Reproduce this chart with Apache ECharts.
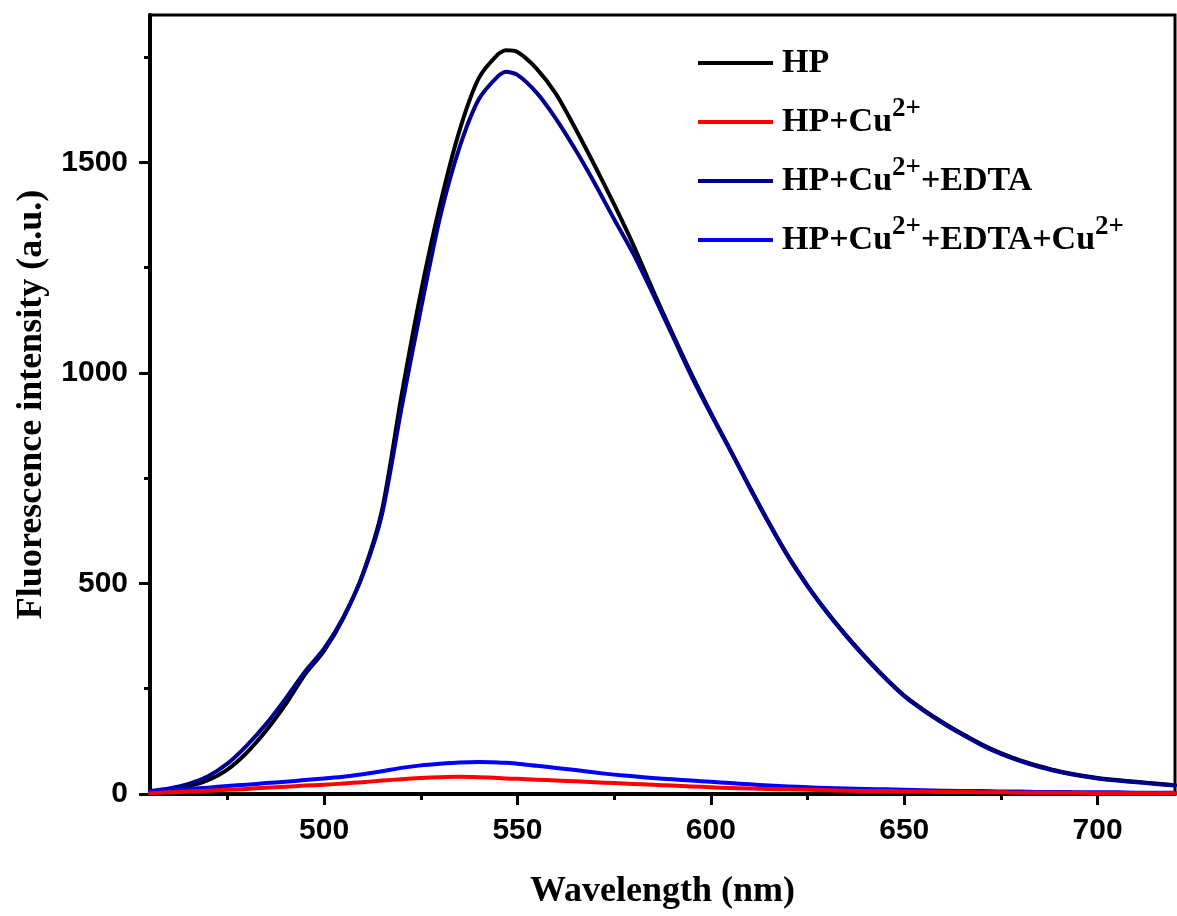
<!DOCTYPE html>
<html>
<head>
<meta charset="utf-8">
<script src="https://cdn.jsdelivr.net/npm/echarts@6/dist/echarts.min.js"></script>
<style>html,body{margin:0;padding:0;background:#fff;}#c{width:1177px;height:916px;}</style>
</head>
<body>
<div id="c"></div>
<script>
const wavelengths = [455,460,465,470,475,480,485,490,495,500,505,510,515,520,525,530,535,540,545,547,550,555,560,565,570,575,580,585,590,595,600,605,610,615,620,625,630,635,640,645,650,655,660,665,670,675,680,685,690,695,700,705,710,715,720];
const hp = [6,10,18,33,58,98,150,212,283,340,418,522,675,945,1190,1400,1575,1700,1757,1766,1762,1722,1662,1580,1492,1400,1303,1197,1095,997,905,818,730,645,565,495,433,377,325,277,234,200,170,143,118,97,80,66,54,45,38,33,29,25,21];
const hpCu = [2,4,6,8,10,12,15,17,20,22,25,28,32,35,38,40,41,40,38,37,36,34,32,30,28,26,24,22,20,18,16,14,13,12,11,10,9,8,7,7,6,6,5,5,4,4,3,3,3,3,2,2,2,2,2];
const hpCuEdta = [7,13,24,42,72,115,166,226,290,345,420,520,665,915,1150,1370,1535,1650,1705,1715,1708,1665,1603,1530,1450,1365,1282,1188,1090,992,902,816,728,643,563,493,431,375,323,275,232,198,168,141,116,95,78,64,53,44,37,32,28,24,20];
const hpCuEdtaCu = [6,9,12,15,19,22,26,29,33,37,41,47,54,62,68,72,75,76,75,74,72,67,62,57,51,46,42,38,35,32,29,26,23,20,18,16,14,13,12,11,10,9,8,7,7,6,6,5,5,4,4,4,3,3,3];
const seriesNames = ['HP', 'HP+Cu2+', 'HP+Cu2++EDTA', 'HP+Cu2++EDTA+Cu2+'];
const xMajorTicks = [500,550,600,650,700];
const xMinorTicks = [475,525,575,625,675];
const yMajorTicks = [0,500,1000,1500];
const yMinorTicks = [250,750,1250,1750];

const pair = arr => wavelengths.map((w, i) => [w, arr[i]]);
const chart = echarts.init(document.getElementById('c'));
const sans = "'Liberation Sans', Arial, sans-serif";
const serif = "'Liberation Serif', 'Times New Roman', serif";
const XMIN = 455, XMAX = 720, YMIN = 0, YMAX = 1850;

function mkSeries(name, data, color, z) {
  return {
    name: name, type: 'line', data: pair(data), showSymbol: false, symbol: 'none',
    smooth: 0.25, z: z,
    lineStyle: { color: color, width: 4, join: 'round', cap: 'round' }, itemStyle: { color: color }
  };
}

chart.setOption({
  animation: false,
  backgroundColor: '#fff',
  grid: { left: 150, top: 15, right: 2, bottom: 122, show: true, borderColor: '#000', borderWidth: 3 },
  legend: {
    data: seriesNames,
    orient: 'vertical', left: 698, top: 37, padding: 0,
    icon: 'rect', itemWidth: 75, itemHeight: 4, itemGap: 7,
    formatter: function (name) { return name.replace(/2\+/g, '{s|2+}'); },
    textStyle: {
      fontFamily: serif, fontWeight: 'bold', fontSize: 34, color: '#000', lineHeight: 52, padding: [0,0,0,4],
      rich: { s: { fontFamily: serif, fontWeight: 'bold', fontSize: 27, color: '#000', verticalAlign: 'top', lineHeight: 52 } }
    }
  },
  xAxis: [{
    type: 'value', min: XMIN, max: XMAX,
    name: 'Wavelength (nm)', nameLocation: 'middle', nameGap: 80,
    nameTextStyle: { fontFamily: serif, fontWeight: 'bold', fontSize: 36, color: '#000' },
    axisLine: { show: true, lineStyle: { color: '#000', width: 4 } },
    axisTick: { show: true, inside: false, length: 11, customValues: xMajorTicks, lineStyle: { color: '#000', width: 3 } },
    axisLabel: { show: true, margin: 22, customValues: xMajorTicks, formatter: v => String(v), fontFamily: sans, fontWeight: 'bold', fontSize: 30, color: '#000' },
    splitLine: { show: false }
  }, {
    type: 'value', min: XMIN, max: XMAX, position: 'bottom',
    axisLine: { show: false },
    axisTick: { show: true, inside: false, length: 6, customValues: xMinorTicks, lineStyle: { color: '#000', width: 3 } },
    axisLabel: { show: false }, splitLine: { show: false }
  }],
  yAxis: [{
    type: 'value', min: YMIN, max: YMAX,
    name: 'Fluorescence intensity (a.u.)', nameLocation: 'middle', nameGap: 100,
    nameTextStyle: { fontFamily: serif, fontWeight: 'bold', fontSize: 36, color: '#000' },
    axisLine: { show: true, lineStyle: { color: '#000', width: 4 } },
    axisTick: { show: true, inside: false, length: 11, customValues: yMajorTicks, lineStyle: { color: '#000', width: 3 } },
    axisLabel: { show: true, margin: 22, customValues: yMajorTicks, formatter: v => String(v), fontFamily: sans, fontWeight: 'bold', fontSize: 30, color: '#000' },
    splitLine: { show: false }
  }, {
    type: 'value', min: YMIN, max: YMAX, position: 'left',
    axisLine: { show: false },
    axisTick: { show: true, inside: false, length: 6, customValues: yMinorTicks, lineStyle: { color: '#000', width: 3 } },
    axisLabel: { show: false }, splitLine: { show: false }
  }],
  series: [
    mkSeries(seriesNames[0], hp, '#000000', 2),
    mkSeries(seriesNames[2], hpCuEdta, '#00008F', 3),
    mkSeries(seriesNames[3], hpCuEdtaCu, '#0000FF', 4),
    mkSeries(seriesNames[1], hpCu, '#FF0000', 5)
  ]
});
</script>
</body>
</html>
